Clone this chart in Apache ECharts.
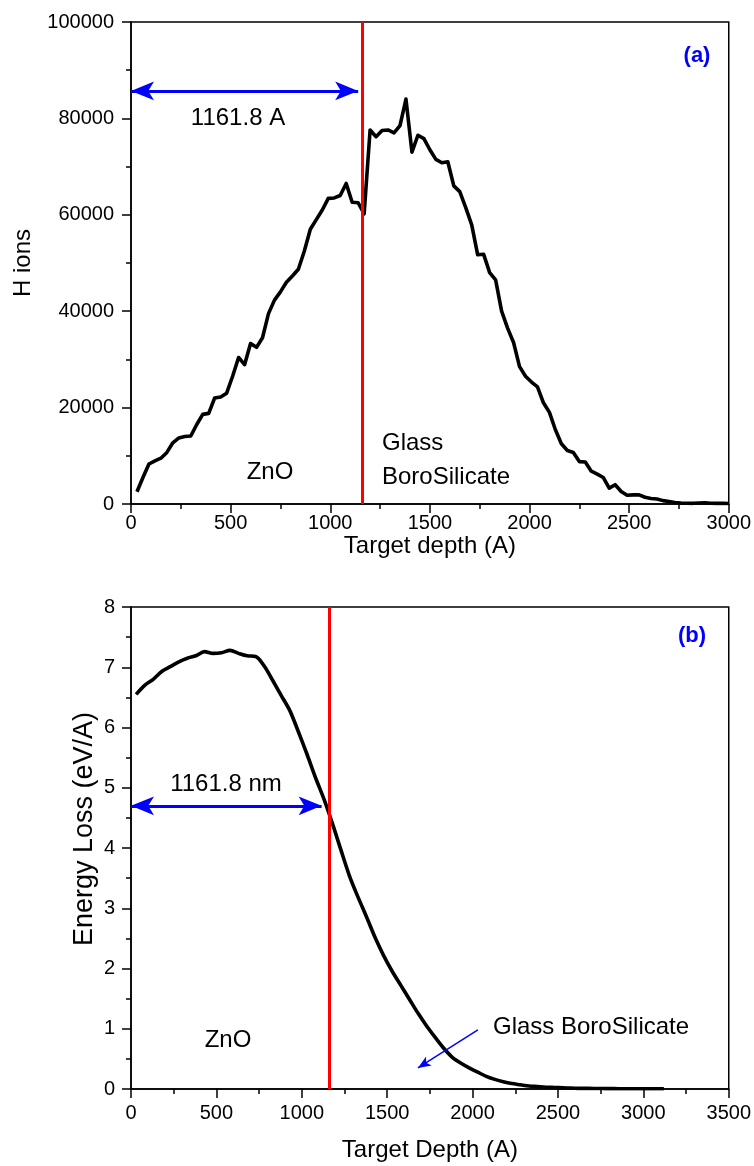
<!DOCTYPE html>
<html>
<head>
<meta charset="utf-8">
<script src="https://cdn.jsdelivr.net/npm/echarts@6/dist/echarts.min.js"></script>
<style>
  html, body { margin: 0; padding: 0; background: #fff; }
  #chart { width: 754px; height: 1166px; }
</style>
</head>
<body>
<div id="chart"></div>
<script>
// (a) H ion distribution vs target depth (Å)
const ionDepth = [
  30, 60, 90, 120, 150, 180, 210, 240, 270, 300,
  330, 360, 390, 420, 450, 480, 510, 540, 570, 600,
  630, 660, 690, 720, 750, 780, 810, 840, 870, 900,
  930, 960, 990, 1020, 1050, 1080, 1110, 1140, 1170, 1200,
  1230, 1260, 1290, 1320, 1350, 1380, 1410, 1440, 1470, 1500,
  1530, 1560, 1590, 1620, 1650, 1680, 1710, 1740, 1770, 1800,
  1830, 1860, 1890, 1920, 1950, 1980, 2010, 2040, 2070, 2100,
  2130, 2160, 2190, 2220, 2250, 2280, 2310, 2340, 2370, 2400,
  2430, 2460, 2490, 2520, 2550, 2580, 2610, 2640, 2670, 2700,
  2730, 2760, 2790, 2820, 2850, 2880, 2910, 2940, 2970, 3000
];
const hIons = [
  2550, 5500, 8300, 8950, 9500, 10700, 12700, 13700, 14000, 14100,
  16500, 18600, 18800, 22000, 22200, 23000, 26500, 30400, 28900, 33300,
  32500, 34500, 39500, 42300, 44000, 46000, 47300, 48700, 52500, 57000,
  59000, 61000, 63400, 63500, 64000, 66500, 62600, 62500, 60200, 77600,
  76200, 77500, 77600, 77000, 78500, 84000, 73000, 76500, 75800, 73500,
  71500, 70800, 71000, 66000, 64800, 61500, 57900, 51700, 51800, 48000,
  46500, 40000, 36500, 33500, 28500, 26500, 25300, 24300, 21000, 19000,
  15400, 12500, 11100, 10700, 8800, 8700, 6800, 6200, 5500, 3300,
  4000, 2600, 1800, 1900, 1900, 1400, 1150, 1050, 700, 500,
  300, 200, 150, 140, 200, 270, 150, 140, 140, 100
];

// (b) Energy loss vs target depth (Å)
const lossDepth = [
  30, 80, 130, 180, 230, 280, 330, 380, 430, 480,
  530, 580, 630, 680, 730, 780, 830, 880, 930, 980,
  1030, 1080, 1130, 1180, 1230, 1280, 1330, 1380, 1430, 1480,
  1530, 1580, 1630, 1680, 1730, 1780, 1830, 1880, 1930, 1980,
  2030, 2080, 2130, 2180, 2230, 2280, 2330, 2380, 2430, 2480,
  2530, 2580, 2630, 2680, 2730, 2780, 2830, 2880, 2930, 2980,
  3030, 3080, 3120
];
const energyLoss = [
  6.55, 6.70, 6.80, 6.93, 7.01, 7.09, 7.15, 7.19, 7.26, 7.23,
  7.24, 7.28, 7.23, 7.19, 7.18, 7.02, 6.78, 6.53, 6.28, 5.93,
  5.56, 5.17, 4.81, 4.40, 3.96, 3.53, 3.18, 2.85, 2.51, 2.21,
  1.95, 1.72, 1.49, 1.26, 1.05, 0.86, 0.68, 0.53, 0.43, 0.35,
  0.28, 0.21, 0.16, 0.12, 0.09, 0.07, 0.05, 0.04, 0.03, 0.025,
  0.02, 0.015, 0.01, 0.01, 0.008, 0.007, 0.006, 0.005, 0.005, 0.004,
  0.004, 0.003, 0.003
];

// Layer boundary and the measured thickness arrows
const interfaceDepth = 1161.8;
const arrowA = { y: 85700, xEnd: 1140 };
const arrowB = { y: 4.7, xEnd: 1116 };
const pointerB = { from: [2031, 0.98], to: [1680, 0.35] };

const FONT = 'Liberation Sans, Arial, sans-serif';
const BLUE = '#0000ff';
const RED = '#ff0000';

function valueAxis(opts) {
  return Object.assign({
    type: 'value',
    splitLine: { show: false },
    axisLine: { show: true, onZero: false, lineStyle: { color: '#000', width: 1.5 } },
    axisTick: { show: true, inside: false, length: 9, lineStyle: { color: '#000', width: 1.5 } },
    minorTick: { show: true, splitNumber: 2, length: 5, lineStyle: { color: '#000', width: 1.5 } },
    nameLocation: 'middle',
    nameTextStyle: { color: '#000', fontSize: 24, fontFamily: FONT }
  }, opts);
}

function tickLabels(margin) {
  return { color: '#000', fontSize: 20, fontFamily: FONT, margin: margin, formatter: v => String(v) };
}

function pairs(xs, ys) {
  return xs.map((x, i) => [x, ys[i]]);
}

function label(text, x, y, opts) {
  return Object.assign({
    type: 'text', z: 10,
    style: Object.assign({
      text: text, x: x, y: y, fill: '#000', font: '24px ' + FONT,
      textAlign: 'center', align: 'center', textVerticalAlign: 'middle', verticalAlign: 'middle'
    }, (opts && opts.style) || {})
  }, (opts && opts.el) || {});
}

const chart = echarts.init(document.getElementById('chart'), null, { renderer: 'canvas' });

chart.setOption({
  backgroundColor: '#fff',
  animation: false,
  grid: [
    { left: 131, top: 22, width: 598, height: 482, show: true, borderColor: '#000', borderWidth: 1.5, backgroundColor: 'transparent' },
    { left: 131, top: 607, width: 598, height: 482, show: true, borderColor: '#000', borderWidth: 1.5, backgroundColor: 'transparent' }
  ],
  xAxis: [
    valueAxis({ gridIndex: 0, min: 0, max: 3000, interval: 500, name: 'Target depth (A)', nameGap: 24,
      axisLabel: tickLabels(9) }),
    valueAxis({ gridIndex: 1, min: 0, max: 3500, interval: 500, name: 'Target Depth (A)', nameGap: 49,
      axisLabel: tickLabels(14) })
  ],
  yAxis: [
    valueAxis({ gridIndex: 0, min: 0, max: 100000, interval: 20000, name: 'H ions', nameGap: 96,
      axisLabel: tickLabels(17) }),
    valueAxis({ gridIndex: 1, min: 0, max: 8, interval: 1,
      axisLabel: tickLabels(16) })
  ],
  series: [
    {
      type: 'line', xAxisIndex: 0, yAxisIndex: 0,
      data: pairs(ionDepth, hIons),
      showSymbol: false, symbol: 'none',
      lineStyle: { color: '#000', width: 3.6, join: 'round' },
      z: 3,
      markLine: {
        silent: true, animation: false,
        label: { show: false },
        data: [
          [{ coord: [interfaceDepth, 0], symbol: 'none', lineStyle: { color: RED, width: 3, type: 'solid' } },
           { coord: [interfaceDepth, 100000], symbol: 'none' }],
          [{ coord: [0, arrowA.y], symbol: 'arrow', symbolSize: [14, 23], lineStyle: { color: BLUE, width: 3, type: 'solid' } },
           { coord: [arrowA.xEnd, arrowA.y], symbol: 'arrow', symbolSize: [14, 23] }]
        ]
      }
    },
    {
      type: 'line', xAxisIndex: 1, yAxisIndex: 1,
      data: pairs(lossDepth, energyLoss),
      showSymbol: false, symbol: 'none', smooth: 0.3,
      lineStyle: { color: '#000', width: 3.6, join: 'round' },
      z: 3,
      markLine: {
        silent: true, animation: false,
        label: { show: false },
        data: [
          [{ coord: [interfaceDepth, 0], symbol: 'none', lineStyle: { color: RED, width: 3, type: 'solid' } },
           { coord: [interfaceDepth, 8], symbol: 'none' }],
          [{ coord: [0, arrowB.y], symbol: 'arrow', symbolSize: [14, 23], lineStyle: { color: BLUE, width: 3, type: 'solid' } },
           { coord: [arrowB.xEnd, arrowB.y], symbol: 'arrow', symbolSize: [14, 23] }],
          [{ coord: pointerB.from, symbol: 'none', lineStyle: { color: BLUE, width: 1.5, type: 'solid' } },
           { coord: pointerB.to, symbol: 'arrow', symbolSize: [8, 13] }]
        ]
      }
    }
  ],
  graphic: [
    // panel (a) labels
    label('(a)', 697, 56, { style: { fill: BLUE, font: 'bold 22px ' + FONT } }),
    label('1161.8 A', 238, 118),
    label('ZnO', 270, 472),
    label('Glass', 382, 443, { style: { textAlign: 'left', align: 'left' } }),
    label('BoroSilicate', 382, 477, { style: { textAlign: 'left', align: 'left' } }),
    // panel (b) labels
    label('(b)', 692, 636, { style: { fill: BLUE, font: 'bold 22px ' + FONT } }),
    label('1161.8 nm', 226, 784),
    label('ZnO', 228, 1040),
    label('Glass BoroSilicate', 493, 1027, { style: { textAlign: 'left', align: 'left' } }),
    // y-axis title of panel (b)
    label('Energy Loss (eV/A)', 0, 0, { style: { font: '27px ' + FONT }, el: { x: 85, y: 829, rotation: Math.PI / 2 } })
  ]
});
</script>
</body>
</html>
